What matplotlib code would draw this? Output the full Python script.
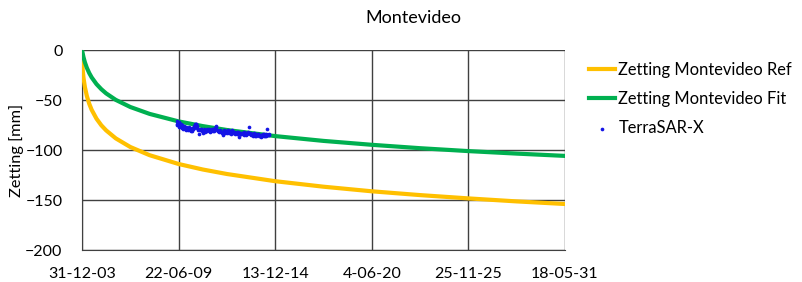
import numpy as np
import matplotlib
matplotlib.use("Agg")
import matplotlib.pyplot as plt
import matplotlib.dates as mdates
from matplotlib.ticker import FuncFormatter

plt.rcParams['font.family'] = ['Lato', 'DejaVu Sans']

# days since 31-12-2003
start = np.datetime64('2003-12-31')
curve_days = [0, 30, 60, 100, 150, 200, 300, 400, 500, 700, 1000, 1400, 2000,
              2500, 3000, 4000, 5000, 6000, 7000, 8000, 9000, 10000]
ref_mm = [-12.0, -27.5, -37.1, -45.9, -53.8, -59.8, -68.7, -75.3, -80.4, -88.4,
          -97.0, -105.2, -114.0, -119.5, -124.0, -131.2, -136.7, -141.3, -145.1,
          -148.4, -151.4, -154.0]
fit_mm = [0.0, -7.0, -12.3, -17.8, -23.1, -27.4, -34.1, -39.2, -43.4, -49.9,
          -57.0, -63.9, -71.4, -76.1, -80.0, -86.1, -90.9, -94.8, -98.2,
          -101.1, -103.6, -105.9]

sar_days = [1960, 1968, 1975, 1980, 1990, 1998, 2005, 2010, 2018, 2025, 2032, 2040,
            2048, 2055, 2065, 2075, 2082, 2090, 2100, 2110, 2120, 2130, 2140, 2150,
            2160, 2170, 2180, 2190, 2200, 2210, 2220, 2230, 2240, 2250, 2260, 2270,
            2280, 2290, 2300, 2310, 2320, 2330, 2340, 2350, 2358, 2365, 2375, 2388,
            2400, 2412, 2430, 2445, 2458, 2470, 2485, 2500, 2515, 2528, 2540, 2552,
            2560, 2572, 2585, 2598, 2610, 2622, 2635, 2648, 2660, 2672, 2680, 2692,
            2705, 2718, 2730, 2742, 2755, 2768, 2780, 2800, 2812, 2825, 2838, 2850,
            2862, 2875, 2890, 2910, 2925, 2938, 2950, 2962, 2975, 2988, 3000, 3012,
            3025, 3038, 3050, 3062, 3075, 3088, 3100, 3112, 3125, 3138, 3150, 3162,
            3175, 3188, 3200, 3212, 3225, 3240, 3255, 3265, 3275, 3288, 3300, 3312,
            3325, 3338, 3350, 3362, 3375, 3388, 3400, 3412, 3425, 3440, 3460, 3475,
            3488, 3500, 3512, 3525, 3538, 3550, 3562, 3575, 3588, 3600, 3612, 3625,
            3638, 3650, 3662, 3675, 3688, 3700, 3712, 3725, 3738, 3750, 3762, 3775,
            3788, 3800, 3815, 3830, 3840, 3850, 3862, 3875]
sar_mm = [-73.5, -71.0, -74.5, -72.5, -74.0, -72.0, -75.5, -73.0, -76.5, -75.0, -73.5, -73.5,
          -77.0, -76.5, -78.0, -74.5, -76.0, -77.5, -79.0, -76.0, -78.0, -78.5, -77.0, -77.0,
          -80.0, -79.0, -77.5, -78.0, -79.5, -76.5, -78.5, -79.5, -80.0, -80.5, -79.0, -78.0,
          -80.5, -79.0, -78.5, -77.5, -76.0, -75.5, -74.0, -74.0, -75.0, -73.5, -76.0, -77.5,
          -78.5, -80.0, -84.0, -80.0, -79.0, -79.0, -80.5, -83.0, -80.5, -79.0, -79.5, -81.5,
          -81.0, -80.0, -79.0, -81.0, -80.0, -79.5, -78.5, -80.5, -81.5, -80.5, -80.0, -79.0,
          -79.0, -81.0, -80.5, -79.5, -78.0, -77.0, -76.0, -79.5, -80.5, -81.0, -82.0, -80.0,
          -81.0, -81.5, -82.5, -85.0, -81.5, -80.0, -80.5, -82.5, -82.0, -81.0, -81.0, -82.5,
          -80.0, -81.5, -82.5, -81.0, -81.5, -83.5, -79.5, -82.0, -83.0, -81.5, -82.0, -83.5,
          -82.5, -83.0, -83.5, -82.0, -81.5, -84.0, -87.0, -83.0, -82.5, -84.0, -83.5, -82.5,
          -84.0, -83.0, -82.0, -84.5, -83.0, -82.5, -84.5, -83.5, -83.0, -82.0, -77.0, -84.0,
          -83.0, -85.0, -84.0, -83.5, -85.5, -84.5, -83.0, -85.5, -84.0, -84.0, -85.5, -85.0,
          -83.5, -83.5, -86.0, -85.5, -84.5, -84.5, -86.5, -86.0, -84.0, -85.0, -85.5, -84.0,
          -85.5, -85.5, -83.5, -79.0, -85.0, -85.0, -84.0, -84.5]

tick_days = [0, 2000, 4000, 6000, 8000, 10000]

curve_dates = start + np.array(curve_days)
sar_dates = start + np.array(sar_days)
tick_dates = start + np.array(tick_days)

fig = plt.figure(figsize=(8.02, 2.82), dpi=100)
ax = fig.add_axes([82/802, 1-250/282, (565-82)/802, 200/282])

ax.plot(curve_dates, ref_mm, color='#FFC000', lw=3, label='Zetting Montevideo Ref', zorder=3)
ax.plot(curve_dates, fit_mm, color='#00B050', lw=3, label='Zetting Montevideo Fit', zorder=3)
ax.scatter(sar_dates, sar_mm, s=7, color='#1414E6', label='TerraSAR-X', zorder=4, linewidths=0)

ax.set_xlim(tick_dates[0], tick_dates[-1])
ax.set_ylim(-200, 0)
ax.set_yticks([-200, -150, -100, -50, 0])
ax.set_xticks(tick_dates)
ax.xaxis.set_major_formatter(FuncFormatter(
    lambda v, p: (lambda d: f"{d.day}-{d.month:02d}-{d.year % 100:02d}")(mdates.num2date(v))))

ax.grid(True, color='#404040', lw=1)
ax.tick_params(length=0, labelsize=11.5, pad=12)
ax.tick_params(axis='y', pad=14)
for s in ['top', 'right']:
    ax.spines[s].set_visible(False)
for s in ['left', 'bottom']:
    ax.spines[s].set_color('#404040')

ax.set_ylabel('Zetting [mm]', fontsize=11.8, labelpad=1)
fig.text(413/802, 1-18/282, 'Montevideo', ha='center', va='center', fontsize=13)

ax.legend(loc='upper left', bbox_to_anchor=(582/802, 1-55/282), bbox_transform=fig.transFigure,
          frameon=False, fontsize=11.9, handlelength=1.6, handletextpad=0.2,
          labelspacing=0.8, markerscale=1.0, borderaxespad=0)

plt.savefig('out.png', dpi=100)
